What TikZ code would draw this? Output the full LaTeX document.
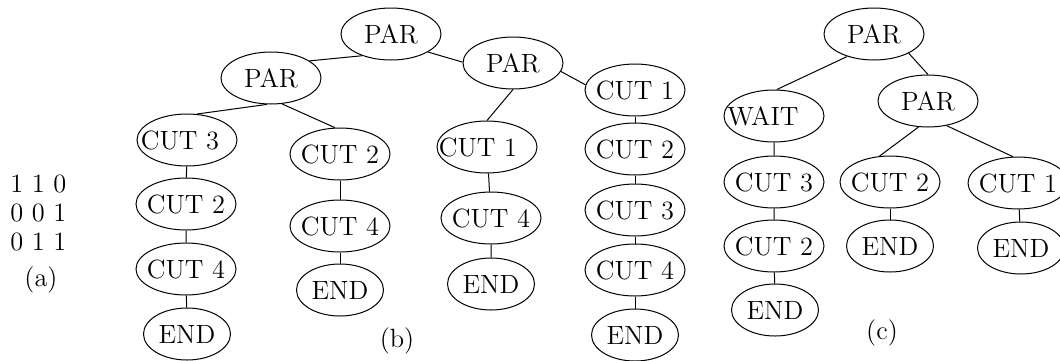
\documentclass[tikz,border=0pt]{standalone}
\usetikzlibrary{shapes.geometric}

\newcommand{\lbl}[2][0pt]{\makebox[0pt]{\kern#1#2\kern-#1}}

\begin{document}
\begin{tikzpicture}[x=0.5pt,y=-0.5pt]
        \tikzstyle{every node}=[font=\fontsize{13.2}{14.5}\selectfont, inner sep=0pt, text=black]
        \tikzstyle{op}=[ellipse, draw=black, line width=0.5pt, minimum width=50pt, minimum height=26pt]
        \tikzstyle{endbox}=[op, minimum width=43.5pt]
        \tikzstyle{edge}=[black, line width=0.5pt]

        \useasboundingbox (0,0) rectangle (1060,360);

        % (a)
        \node[anchor=west] (mat) at (10,216) {\begin{tabular}{@{}l@{}} 1 1 0 \\ 0 0 1 \\ 0 1 1 \end{tabular}};
        \node (la) at (41,280) {(a)};

        % (b)
        \node[op] (b0) at (391,34)  {\lbl{PAR}};
        \node[op] (b1) at (271,78)  {\lbl{PAR}};
        \node[op] (b2) at (513,63)  {\lbl{PAR}};

        \node[op]     (b11) at (187,140) {\lbl[-3.5pt]{CUT 3}};
        \node[op]     (b12) at (186,204) {\lbl{CUT 2}};
        \node[op]     (b13) at (186,269) {\lbl{CUT 4}};
        \node[endbox] (b14) at (187,334) {\lbl{END}};

        \node[op]     (b21) at (340,154) {\lbl{CUT 2}};
        \node[op]     (b22) at (340,226) {\lbl{CUT 4}};
        \node[endbox] (b23) at (340,290) {\lbl{END}};

        \node[op]     (b31) at (487,147) {\lbl[-4.5pt]{CUT 1}};
        \node[op]     (b32) at (491,218) {\lbl{CUT 4}};
        \node[endbox] (b33) at (491,284) {\lbl{END}};

        \node[op]     (b41) at (635,90)  {\lbl{CUT 1}};
        \node[op]     (b42) at (635,149) {\lbl{CUT 2}};
        \node[op]     (b43) at (635,210) {\lbl{CUT 3}};
        \node[op]     (b44) at (635,270) {\lbl{CUT 4}};
        \node[endbox] (b45) at (635,335) {\lbl{END}};

        \node (lb) at (397,341) {(b)};

        \draw[edge] (b0.217) -- (b1.24);
        \draw[edge] (b0.334) -- (b2.179);
        \draw[edge] (b1.261) -- (b11.69);
        \draw[edge] (b1.293) -- (b21.101);
        \draw[edge] (b2.270) -- (b31.90);
        \draw[edge] (b2.350) -- (b41.174);
        \draw[edge] (b11) -- (b12) -- (b13) -- (b14);
        \draw[edge] (b21) -- (b22) -- (b23);
        \draw[edge] (b31) -- (b32) -- (b33);
        \draw[edge] (b41) -- (b42) -- (b43) -- (b44) -- (b45);

        % (c)
        \node[op] (c0) at (874,34)  {\lbl{PAR}};
        \node[op] (c1) at (928,101) {\lbl{PAR}};

        \node[op]     (c11) at (774,116) {\lbl[-5.5pt]{WAIT}};
        \node[op]     (c12) at (774,182) {\lbl{CUT 3}};
        \node[op]     (c13) at (774,246) {\lbl{CUT 2}};
        \node[endbox] (c14) at (775,310) {\lbl{END}};

        \node[op]     (c21) at (890,182) {\lbl{CUT 2}};
        \node[endbox] (c22) at (890,246) {\lbl{END}};

        \node[op]     (c31) at (1018,183) {\lbl{CUT 1}};
        \node[endbox] (c32) at (1021,248) {\lbl{END}};

        \node (lc) at (882,333) {(c)};

        \draw[edge] (c0.220) -- (c11.84);
        \draw[edge] (c0.331) -- (c1.90);
        \draw[edge] (c1.250) -- (c21.112);
        \draw[edge] (c1.307) -- (c31.101);
        \draw[edge] (c11) -- (c12) -- (c13) -- (c14);
        \draw[edge] (c21) -- (c22);
        \draw[edge] (c31) -- (c32);
\end{tikzpicture}
\end{document}
